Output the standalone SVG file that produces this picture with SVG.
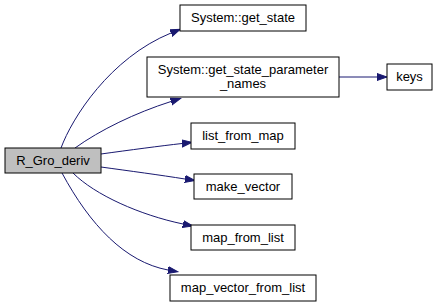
<svg xmlns="http://www.w3.org/2000/svg" width="441" height="307" viewBox="0 0 441 307">
  <style>
    .box { fill: #ffffff; stroke: #000000; stroke-width: 1; }
    .box.cur { fill: #bfbfbf; }
    .lbl { font-family: "Liberation Sans", Arial, Helvetica, sans-serif; font-size: 13px; fill: #000000; text-anchor: middle; }
    .edge { fill: none; stroke: #191970; stroke-width: 1; }
  </style>
  <defs>
    <marker id="arrow" markerUnits="userSpaceOnUse" markerWidth="12" markerHeight="9" refX="0" refY="4" orient="auto">
      <path d="M0,0.5 L10,4 L0,7.5 z" fill="#191970" stroke="#191970" stroke-width="1"/>
    </marker>
  </defs>
  <rect width="441" height="307" fill="#ffffff"/>

  <g id="edges">
    <path class="edge" marker-end="url(#arrow)" d="M61,148 C72,118 110,58 171,33"/>
    <path class="edge" marker-end="url(#arrow)" d="M75,148 C100,130 135,113 171,101.5"/>
    <path class="edge" marker-end="url(#arrow)" d="M339,77 L377,77"/>
    <path class="edge" marker-end="url(#arrow)" d="M101,154 C130,150 160,146 182,143.5"/>
    <path class="edge" marker-end="url(#arrow)" d="M101,167 C130,171 160,175 185,179"/>
    <path class="edge" marker-end="url(#arrow)" d="M73,173 C95,195 140,215 183,224"/>
    <path class="edge" marker-end="url(#arrow)" d="M62,173 C90,225 125,262 168,270"/>
  </g>

  <g id="node-R_Gro_deriv">
    <rect class="box cur" x="5" y="148" width="96" height="25"/>
    <text class="lbl" x="53" y="165">R_Gro_deriv</text>
  </g>
  <g id="node-get_state">
    <rect class="box" x="180" y="5" width="126" height="26"/>
    <text class="lbl" x="243" y="22">System::get_state</text>
  </g>
  <g id="node-get_state_parameter_names">
    <rect class="box" x="147" y="57" width="192" height="40"/>
    <text class="lbl" x="243" y="74">System::get_state_parameter</text>
    <text class="lbl" x="243" y="88">_names</text>
  </g>
  <g id="node-keys">
    <rect class="box" x="387" y="64" width="45" height="26"/>
    <text class="lbl" x="409.5" y="81">keys</text>
  </g>
  <g id="node-list_from_map">
    <rect class="box" x="191" y="123" width="104" height="26"/>
    <text class="lbl" x="243" y="140">list_from_map</text>
  </g>
  <g id="node-make_vector">
    <rect class="box" x="194" y="174" width="98" height="25"/>
    <text class="lbl" x="243" y="191">make_vector</text>
  </g>
  <g id="node-map_from_list">
    <rect class="box" x="191" y="225" width="104" height="25"/>
    <text class="lbl" x="243" y="242">map_from_list</text>
  </g>
  <g id="node-map_vector_from_list">
    <rect class="box" x="170" y="275" width="146" height="26"/>
    <text class="lbl" x="243" y="292">map_vector_from_list</text>
  </g>
</svg>
